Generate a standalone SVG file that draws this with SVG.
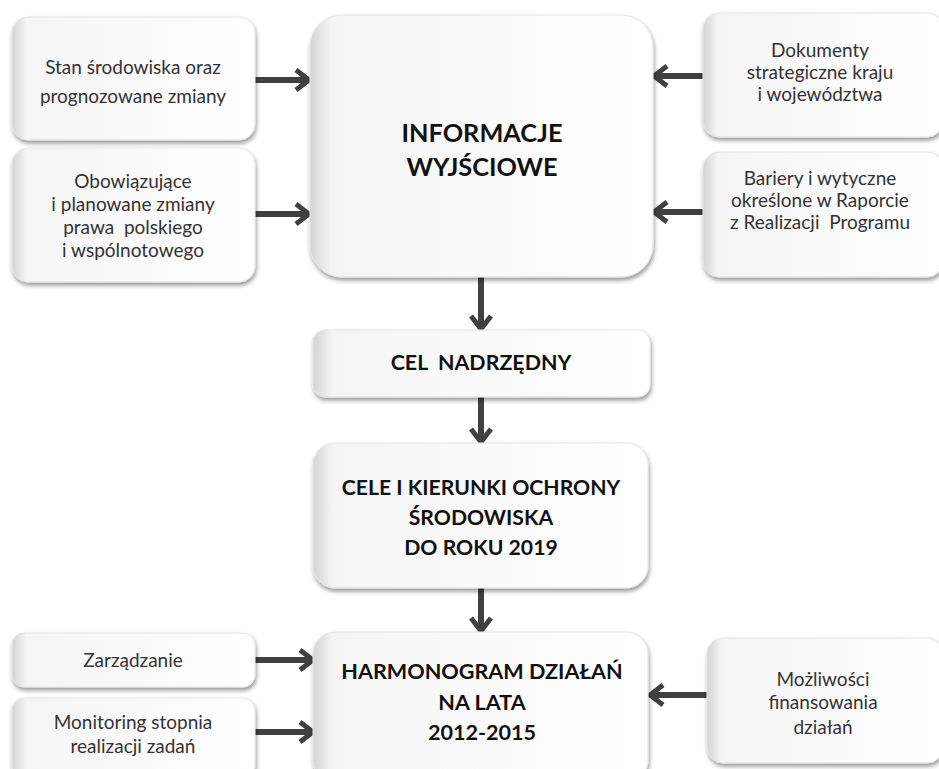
<svg xmlns="http://www.w3.org/2000/svg" width="939" height="769" viewBox="0 0 939 769">
<defs>
<linearGradient id="bev" x1="0" y1="0" x2="1" y2="0">
<stop offset="0" stop-color="#d4d4d4"/>
<stop offset="0.06" stop-color="#f5f5f5"/>
<stop offset="1" stop-color="#ffffff"/>
</linearGradient>
<filter id="sh" x="-10%" y="-10%" width="125%" height="130%">
<feDropShadow dx="1" dy="3" stdDeviation="2" flood-color="#000" flood-opacity="0.4"/>
</filter>
<marker id="ah" viewBox="0 0 24 24" refX="21" refY="12" markerWidth="24" markerHeight="24" markerUnits="userSpaceOnUse" orient="auto">
<path d="M8,2 L21,12 L8,22" fill="none" stroke="#404040" stroke-width="5" stroke-linejoin="miter"/>
</marker>
</defs>
<style>
.box{fill:url(#bev);stroke:#e4e4e4;stroke-width:1;filter:url(#sh)}
.t{font-family:Lato,"Open Sans","Liberation Sans",sans-serif;font-size:19px;fill:#333;text-anchor:middle}
.b{font-family:Lato,"Open Sans","Liberation Sans",sans-serif;font-weight:bold;fill:#111;text-anchor:middle}
.c{stroke:#404040;stroke-width:6;fill:none;marker-end:url(#ah)}
</style>
<rect width="939" height="769" fill="#fff"/>

<g id="connectors">
<line class="c" x1="255" y1="80" x2="309" y2="80"/>
<line class="c" x1="255" y1="214" x2="309" y2="214"/>
<line class="c" x1="704" y1="76" x2="654" y2="76"/>
<line class="c" x1="704" y1="212" x2="654" y2="212"/>
<line class="c" x1="481" y1="277" x2="481" y2="329"/>
<line class="c" x1="481" y1="397" x2="481" y2="442"/>
<line class="c" x1="481" y1="588" x2="481" y2="631"/>
<line class="c" x1="255" y1="660" x2="313" y2="660"/>
<line class="c" x1="255" y1="732" x2="313" y2="732"/>
<line class="c" x1="707" y1="695" x2="650" y2="695"/>
</g>

<g id="n-stan">
<rect class="box" x="12" y="17" width="243" height="123" rx="16"/>
<text class="t" x="133" y="74">Stan środowiska oraz</text>
<text class="t" x="133" y="103">prognozowane zmiany</text>
</g>

<g id="n-obow">
<rect class="box" x="12" y="148" width="243" height="134" rx="16"/>
<text class="t" x="133" y="188">Obowiązujące</text>
<text class="t" x="133" y="210.5">i planowane zmiany</text>
<text class="t" x="133" y="233.5" xml:space="preserve">prawa  polskiego</text>
<text class="t" x="133" y="256.5">i wspólnotowego</text>
</g>

<g id="n-info">
<rect class="box" x="310" y="15" width="343" height="262" rx="32"/>
<text class="b" x="482" y="142" font-size="25.3">INFORMACJE</text>
<text class="b" x="482" y="176" font-size="25.3">WYJŚCIOWE</text>
</g>

<g id="n-dok">
<rect class="box" x="703" y="13" width="240" height="124" rx="16"/>
<text class="t" x="820" y="56.5">Dokumenty</text>
<text class="t" x="820" y="78.5">strategiczne kraju</text>
<text class="t" x="820" y="100.5">i województwa</text>
</g>

<g id="n-bar">
<rect class="box" x="703" y="152" width="240" height="125" rx="16"/>
<text class="t" x="820" y="185">Bariery i wytyczne</text>
<text class="t" x="820" y="207">określone w Raporcie</text>
<text class="t" x="820" y="229" xml:space="preserve">z Realizacji  Programu</text>
</g>

<g id="n-cel">
<rect class="box" x="313" y="330" width="337" height="67" rx="12"/>
<text class="b" x="481" y="370" font-size="21.4" xml:space="preserve">CEL  NADRZĘDNY</text>
</g>

<g id="n-cele">
<rect class="box" x="313" y="443" width="335" height="145" rx="22"/>
<text class="b" x="481" y="495" font-size="21.2">CELE I KIERUNKI OCHRONY</text>
<text class="b" x="481" y="525" font-size="21.2">ŚRODOWISKA</text>
<text class="b" x="481" y="555" font-size="21.2">DO ROKU 2019</text>
</g>

<g id="n-harm">
<rect class="box" x="313" y="632" width="335" height="150" rx="22"/>
<text class="b" x="482" y="679" font-size="21.6">HARMONOGRAM DZIAŁAŃ</text>
<text class="b" x="482" y="710" font-size="21.6">NA LATA</text>
<text class="b" x="482" y="740" font-size="21.6">2012-2015</text>
</g>

<g id="n-zarz">
<rect class="box" x="12" y="633" width="243" height="54" rx="12"/>
<text class="t" x="133" y="667">Zarządzanie</text>
</g>

<g id="n-mon">
<rect class="box" x="12" y="698" width="243" height="80" rx="12"/>
<text class="t" x="133" y="729">Monitoring stopnia</text>
<text class="t" x="133" y="753">realizacji zadań</text>
</g>

<g id="n-mozl">
<rect class="box" x="707" y="638" width="236" height="125" rx="16"/>
<text class="t" x="823" y="686">Możliwości</text>
<text class="t" x="823" y="709">finansowania</text>
<text class="t" x="823" y="734">działań</text>
</g>
</svg>
